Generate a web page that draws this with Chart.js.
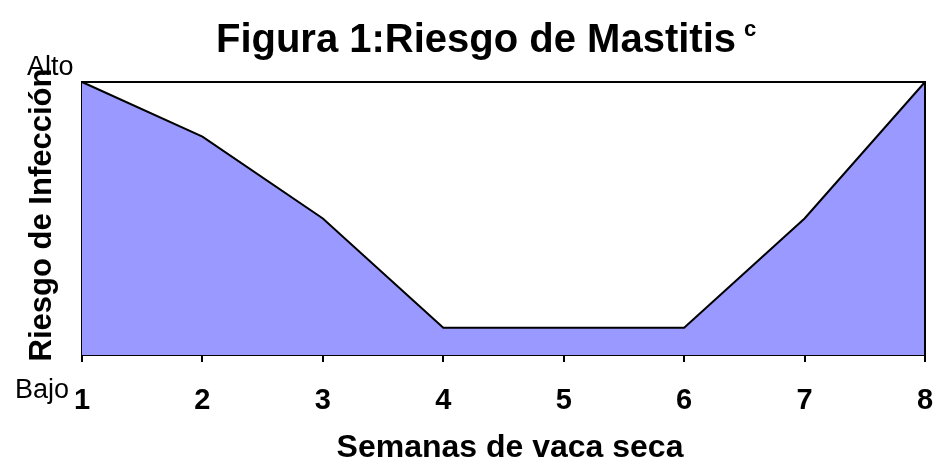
<!DOCTYPE html>
<html><head><meta charset="utf-8">
<script src="https://cdn.jsdelivr.net/npm/chart.js@4/dist/chart.umd.min.js"></script>
<style>html,body{margin:0;padding:0;background:#fff}#wrap{width:936px;height:468px}</style>
</head><body><div id="wrap"><canvas id="c" width="936" height="468"></canvas></div>
<script>
const weeks = ['1','2','3','4','5','6','7','8'];
const risk = [100, 80, 50, 10, 10, 10, 50, 100];
const yLevelLabels = ['Bajo', 'Alto'];
const chartTitle = 'Figura 1:Riesgo de Mastitis';
const titleSup = 'c';
const xTitle = 'Semanas de vaca seca';
const yTitle = 'Riesgo de Infección';

const FONT = '"Liberation Sans", Arial, Helvetica, sans-serif';

const textPlugin = {
  id: 'texts',
  afterDraw(chart) {
    const { ctx, chartArea: a } = chart;
    ctx.save();
    ctx.strokeStyle = '#000';
    ctx.lineWidth = 2;
    ctx.beginPath();
    ctx.moveTo(a.left, a.top);
    ctx.lineTo(a.right, a.top);
    ctx.lineTo(a.right, a.bottom);
    ctx.stroke();

    ctx.fillStyle = '#000';
    ctx.textBaseline = 'alphabetic';
    ctx.textAlign = 'left';
    ctx.font = 'bold 40px ' + FONT;
    const tw = ctx.measureText(chartTitle).width;
    const tx = 476 - tw / 2;
    ctx.fillText(chartTitle, tx, 52);
    ctx.font = 'bold 22px ' + FONT;
    ctx.fillText(titleSup, tx + tw + 8, 36);

    ctx.font = '27px ' + FONT;
    ctx.fillText(yLevelLabels[1], 27, 75);
    ctx.fillText(yLevelLabels[0], 15, 398);

    ctx.font = 'bold 32px ' + FONT;
    ctx.textAlign = 'center';
    ctx.fillText(xTitle, 510, 457);

    ctx.translate(51, 215);
    ctx.rotate(-Math.PI / 2);
    ctx.font = 'bold 31px ' + FONT;
    ctx.fillText(yTitle, 0, 0);
    ctx.restore();
  }
};

new Chart(document.getElementById('c'), {
  type: 'line',
  data: {
    labels: weeks,
    datasets: [{
      data: risk,
      fill: 'origin',
      backgroundColor: '#9999ff',
      borderColor: '#000',
      borderWidth: 2,
      pointRadius: 0,
      tension: 0,
      clip: false
    }]
  },
  options: {
    responsive: false,
    animation: false,
    devicePixelRatio: 1,
    layout: { padding: { top: 82, right: 11, left: 0, bottom: 0 } },
    plugins: { legend: { display: false }, tooltip: { enabled: false }, title: { display: false } },
    scales: {
      x: {
        type: 'category',
        offset: false,
        grid: { display: true, drawOnChartArea: false, drawTicks: true, tickLength: 7, color: '#000', lineWidth: 2 },
        border: { display: true, color: '#000', width: 2 },
        ticks: { color: '#000', font: { family: FONT, size: 29, weight: 'bold' }, padding: 22, maxRotation: 0, autoSkip: false },
        afterFit(s) { s.height = 113; s.paddingLeft = 0; s.paddingRight = 0; }
      },
      y: {
        min: 0, max: 100,
        grid: { display: false },
        border: { display: true, color: '#000', width: 2 },
        ticks: { display: false },
        afterFit(s) { s.width = 82; s.paddingTop = 0; s.paddingBottom = 0; }
      }
    }
  },
  plugins: [textPlugin]
});
</script></body></html>
